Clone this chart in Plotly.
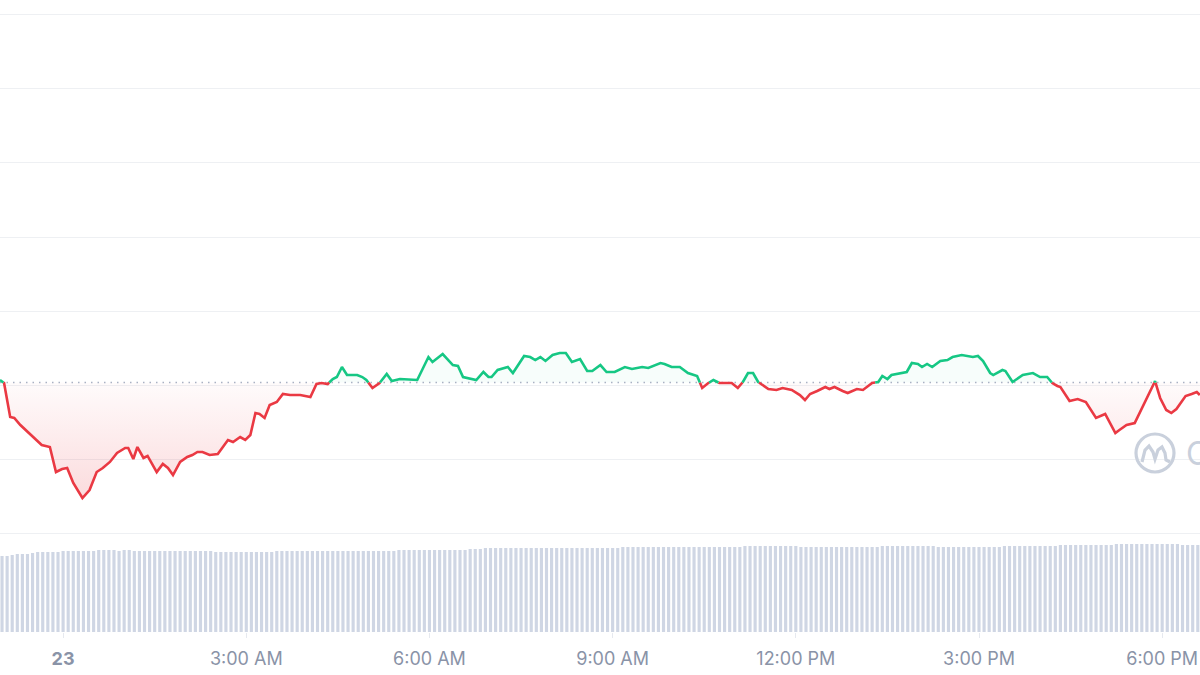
import numpy as np
import pandas as pd
import plotly.graph_objects as go

# ---------------- data ----------------
START = pd.Timestamp("2023-05-22 22:58")

# minutes after START, price (arbitrary USD units)
price_minutes = [
    0, 4, 10, 14, 20, 25, 32, 36, 41, 49, 55, 61, 66, 72, 81, 88, 95, 101, 108, 115,
    123, 126, 131, 135, 141, 145, 154, 160, 165, 170, 177, 184, 189, 194, 199, 206, 214, 224, 229, 236,
    241, 246, 251, 255, 260, 265, 272, 278, 285, 295, 305, 311, 316, 322, 327, 331, 336, 341, 351, 356,
    360, 366, 373, 380, 385, 393, 410, 421, 425, 435, 445, 450, 455, 464, 468, 475, 480, 483, 489, 499,
    504, 515, 521, 526, 531, 536, 543, 550, 556, 562, 570, 577, 582, 590, 596, 604, 614, 621, 631, 637,
    649, 653, 660, 668, 676, 685, 690, 696, 701, 707, 719, 725, 730, 735, 740, 745, 755, 763, 769, 778,
    786, 791, 796, 803, 811, 815, 820, 828, 833, 842, 848, 857, 863, 867, 872, 876, 884, 891, 896, 902,
    906, 911, 916, 924, 931, 936, 945, 951, 956, 961, 966, 973, 976, 985, 988, 995, 1005, 1015, 1022, 1029,
    1034, 1039, 1042, 1051, 1059, 1067, 1077, 1086, 1096, 1100, 1107, 1115, 1126, 1130, 1135, 1140, 1146, 1151, 1156, 1165,
    1171, 1176, 1179,
]
price_values = [
    100.69, 100.28, 95.69, 95.56, 94.61, 93.94, 92.99, 92.59, 91.91, 91.64, 88.26, 88.67, 88.81, 86.78, 84.75, 85.83, 88.26, 88.81, 89.62, 90.83,
    91.51, 91.51, 90.02, 91.64, 90.16, 90.43, 88.26, 89.35, 88.81, 87.86, 89.62, 90.29, 90.56, 90.97, 90.97, 90.56, 90.70, 92.59, 92.32, 92.99,
    92.59, 93.26, 96.23, 96.10, 95.56, 97.31, 97.72, 98.80, 98.66, 98.66, 98.39, 100.15, 100.28, 100.15, 100.82, 101.09, 102.44, 101.36, 101.36, 101.09,
    100.69, 99.61, 100.28, 101.50, 100.55, 100.82, 100.69, 103.79, 103.12, 104.20, 102.71, 102.58, 101.09, 100.82, 100.69, 101.77, 101.09, 101.09, 102.04, 102.44,
    101.63, 103.93, 103.79, 103.39, 103.79, 103.26, 104.06, 104.33, 104.33, 103.12, 103.52, 101.90, 101.90, 102.71, 101.77, 101.77, 102.44, 102.17, 102.44, 102.31,
    102.98, 102.85, 102.44, 102.44, 101.63, 101.23, 99.61, 100.28, 100.69, 100.28, 100.28, 99.61, 100.42, 101.63, 101.63, 100.42, 99.47, 99.34, 99.61, 99.34,
    98.66, 97.99, 98.80, 99.20, 99.74, 99.47, 99.74, 99.20, 98.93, 99.47, 99.34, 100.28, 100.42, 101.23, 100.82, 101.36, 101.63, 101.77, 102.98, 102.85,
    102.44, 102.85, 102.44, 103.25, 103.39, 103.79, 104.06, 103.93, 103.79, 103.93, 103.25, 101.63, 101.36, 102.04, 101.90, 100.42, 101.36, 101.63, 101.09, 101.09,
    100.28, 99.88, 99.74, 97.85, 98.12, 97.72, 95.56, 96.10, 93.53, 93.94, 94.61, 94.88, 97.99, 98.93, 100.55, 98.26, 96.64, 96.23, 96.77, 98.53,
    98.80, 99.07, 98.66,
]
base_price = 100.35  # reference (24h open) price, dotted line

# 5-minute volume bars (billions)
VOL_START = pd.Timestamp("2023-05-22 23:00")
volume_values = [
    7.6, 7.6, 7.7, 7.8, 7.8, 7.8, 7.9, 8.0, 8.0, 8.0, 8.0, 8.0, 8.1, 8.1, 8.1, 8.1, 8.1, 8.1, 8.1, 8.2,
    8.2, 8.2, 8.2, 8.1, 8.2, 8.2, 8.1, 8.1, 8.1, 8.1, 8.1, 8.1, 8.1, 8.1, 8.1, 8.1, 8.1, 8.1, 8.1, 8.1,
    8.1, 8.1, 8.0, 8.0, 8.0, 8.0, 8.0, 8.0, 8.0, 8.0, 8.0, 8.0, 8.0, 8.0, 8.1, 8.1, 8.1, 8.1, 8.1, 8.1,
    8.1, 8.1, 8.1, 8.1, 8.1, 8.1, 8.1, 8.1, 8.1, 8.1, 8.1, 8.1, 8.1, 8.1, 8.1, 8.1, 8.1, 8.1, 8.2, 8.2,
    8.2, 8.2, 8.2, 8.2, 8.2, 8.2, 8.2, 8.2, 8.2, 8.2, 8.2, 8.2, 8.3, 8.3, 8.3, 8.4, 8.4, 8.4, 8.4, 8.4,
    8.4, 8.4, 8.4, 8.4, 8.4, 8.4, 8.4, 8.4, 8.4, 8.4, 8.4, 8.4, 8.4, 8.4, 8.4, 8.4, 8.4, 8.4, 8.4, 8.4,
    8.4, 8.4, 8.5, 8.5, 8.5, 8.5, 8.5, 8.5, 8.5, 8.5, 8.5, 8.5, 8.5, 8.5, 8.5, 8.5, 8.5, 8.5, 8.5, 8.5,
    8.5, 8.5, 8.5, 8.5, 8.5, 8.5, 8.6, 8.6, 8.6, 8.6, 8.6, 8.6, 8.6, 8.6, 8.6, 8.6, 8.6, 8.5, 8.5, 8.5,
    8.5, 8.5, 8.5, 8.5, 8.5, 8.5, 8.5, 8.5, 8.5, 8.5, 8.5, 8.5, 8.5, 8.6, 8.6, 8.6, 8.6, 8.6, 8.6, 8.6,
    8.6, 8.6, 8.6, 8.6, 8.5, 8.5, 8.5, 8.5, 8.5, 8.5, 8.5, 8.5, 8.5, 8.5, 8.5, 8.5, 8.5, 8.6, 8.6, 8.6,
    8.6, 8.6, 8.6, 8.6, 8.6, 8.6, 8.6, 8.6, 8.7, 8.7, 8.7, 8.7, 8.7, 8.7, 8.7, 8.7, 8.7, 8.7, 8.7, 8.8,
    8.8, 8.8, 8.8, 8.8, 8.8, 8.8, 8.8, 8.8, 8.8, 8.8, 8.8, 8.8, 8.7, 8.7, 8.7, 8.7,
]

tick_times = ["2023-05-23 00:00", "2023-05-23 03:00", "2023-05-23 06:00", "2023-05-23 09:00",
              "2023-05-23 12:00", "2023-05-23 15:00", "2023-05-23 18:00"]
tick_labels = ["<b>23</b>", "3:00 AM", "6:00 AM", "9:00 AM", "12:00 PM", "3:00 PM", "6:00 PM"]

# ---------------- styling constants ----------------
GREEN = "#16c784"
RED = "#ea3943"
W, H = 1200, 675
MB = 43
PLOT_H = H - MB
PX_PER_MIN = 61.06 / 60.0

# ---------------- build colored segments ----------------
t = np.array(price_minutes, dtype=float)
p = np.array(price_values, dtype=float)
tt, pp = [], []
for i in range(len(t)):
    tt.append(t[i]); pp.append(p[i])
    if i < len(t) - 1 and (p[i] - base_price) * (p[i + 1] - base_price) < 0:
        tc = t[i] + (base_price - p[i]) / (p[i + 1] - p[i]) * (t[i + 1] - t[i])
        tt.append(tc); pp.append(base_price)
tt = np.array(tt); pp = np.array(pp)
times = [START + pd.Timedelta(minutes=float(m)) for m in tt]

green_y = [v if v >= base_price - 1e-9 else None for v in pp]
red_y = [v if v <= base_price + 1e-9 else None for v in pp]
low_y = np.minimum(pp, base_price)
high_y = np.maximum(pp, base_price)
base_y = [base_price] * len(pp)

vol_times = [VOL_START + pd.Timedelta(minutes=5 * i) for i in range(len(volume_values))]
x_end = START + pd.Timedelta(minutes=1200 / PX_PER_MIN)

fig = go.Figure()

# volume bars (own axis)
fig.add_trace(go.Bar(x=vol_times, y=volume_values, marker=dict(color="#cfd6e4", line=dict(width=0)),
                     yaxis="y2", hoverinfo="skip", showlegend=False))

# red fill
fig.add_trace(go.Scatter(x=times, y=base_y, mode="lines", line=dict(width=0), hoverinfo="skip", showlegend=False))
fig.add_trace(go.Scatter(x=times, y=low_y, mode="lines", line=dict(width=0), fill="tonexty",
                         fillgradient=dict(type="vertical",
                                           colorscale=[[0, "rgba(234,57,67,0.18)"], [1, "rgba(234,57,67,0.02)"]]),
                         hoverinfo="skip", showlegend=False))
# green fill
fig.add_trace(go.Scatter(x=times, y=base_y, mode="lines", line=dict(width=0), hoverinfo="skip", showlegend=False))
fig.add_trace(go.Scatter(x=times, y=high_y, mode="lines", line=dict(width=0), fill="tonexty",
                         fillcolor="rgba(22,199,132,0.035)", hoverinfo="skip", showlegend=False))

# baseline dotted
fig.add_trace(go.Scatter(x=[START, x_end], y=[base_price, base_price],
                         mode="lines", line=dict(color="#a9b1c3", width=1.4, dash="1.5px,5px"),
                         hoverinfo="skip", showlegend=False))

# price lines
fig.add_trace(go.Scatter(x=times, y=red_y, mode="lines", line=dict(color=RED, width=2.6, shape="linear"),
                         connectgaps=False, showlegend=False))
fig.add_trace(go.Scatter(x=times, y=green_y, mode="lines", line=dict(color=GREEN, width=2.6, shape="linear"),
                         connectgaps=False, showlegend=False))

# price axis: gridlines every 10 units, 7.405 px per unit
px_per_unit = 7.405
grid_ref_val, grid_ref_px = 100.0, 385.1
y_top = grid_ref_val + grid_ref_px / px_per_unit
y_bot = grid_ref_val - (PLOT_H - grid_ref_px) / px_per_unit

fig.update_layout(
    width=W, height=H,
    margin=dict(l=0, r=0, t=0, b=MB),
    paper_bgcolor="white", plot_bgcolor="white",
    showlegend=False,
    bargap=0.38,
    xaxis=dict(type="date", range=[START, x_end], showgrid=False, zeroline=False, showline=False,
               tickmode="array", tickvals=tick_times, ticktext=tick_labels,
               ticks="outside", ticklen=5, tickcolor="#e6e9ef", tickwidth=1,
               ticklabelstandoff=5,
               tickfont=dict(family="Inter, Noto Sans, sans-serif", size=18, color="#8a93a7")),
    yaxis=dict(range=[y_bot, y_top], tickmode="array", tickvals=list(range(80, 151, 10)),
               showticklabels=False, gridcolor="#eef0f3", gridwidth=1, zeroline=False, showline=False),
    yaxis2=dict(range=[0, PLOT_H * 0.1], overlaying="y", visible=False, showgrid=False),
)

# watermark logo (circle + wave) in paper coords from pixel positions
def px(xp):
    return xp / W
def py(yp):
    return 1 - yp / PLOT_H

cx, cy, r = 1155, 453, 19
fig.add_shape(type="circle", xref="paper", yref="paper",
              x0=px(cx - r), x1=px(cx + r), y0=py(cy + r), y1=py(cy - r),
              line=dict(color="#c9d0dc", width=3.2), fillcolor="rgba(0,0,0,0)", layer="above")
wave = [(1142, 462), (1145, 450), (1149, 446), (1153, 452), (1155, 459), (1158, 450), (1162, 447), (1165, 453), (1166, 460), (1170, 462)]
path = "M " + " L ".join(f"{px(a):.5f},{py(b):.5f}" for a, b in wave)
fig.add_shape(type="path", xref="paper", yref="paper", path=path,
              line=dict(color="#c9d0dc", width=3.2), layer="above")
fig.add_annotation(xref="paper", yref="paper", x=px(1184), y=py(453), xanchor="left", yanchor="middle",
                   text="C", showarrow=False,
                   font=dict(family="Inter, Noto Sans, sans-serif", size=32, color="#c9d0dc"))

fig.write_html("out.html", config={"displayModeBar": False},
               post_script="document.body.style.margin='0';")
